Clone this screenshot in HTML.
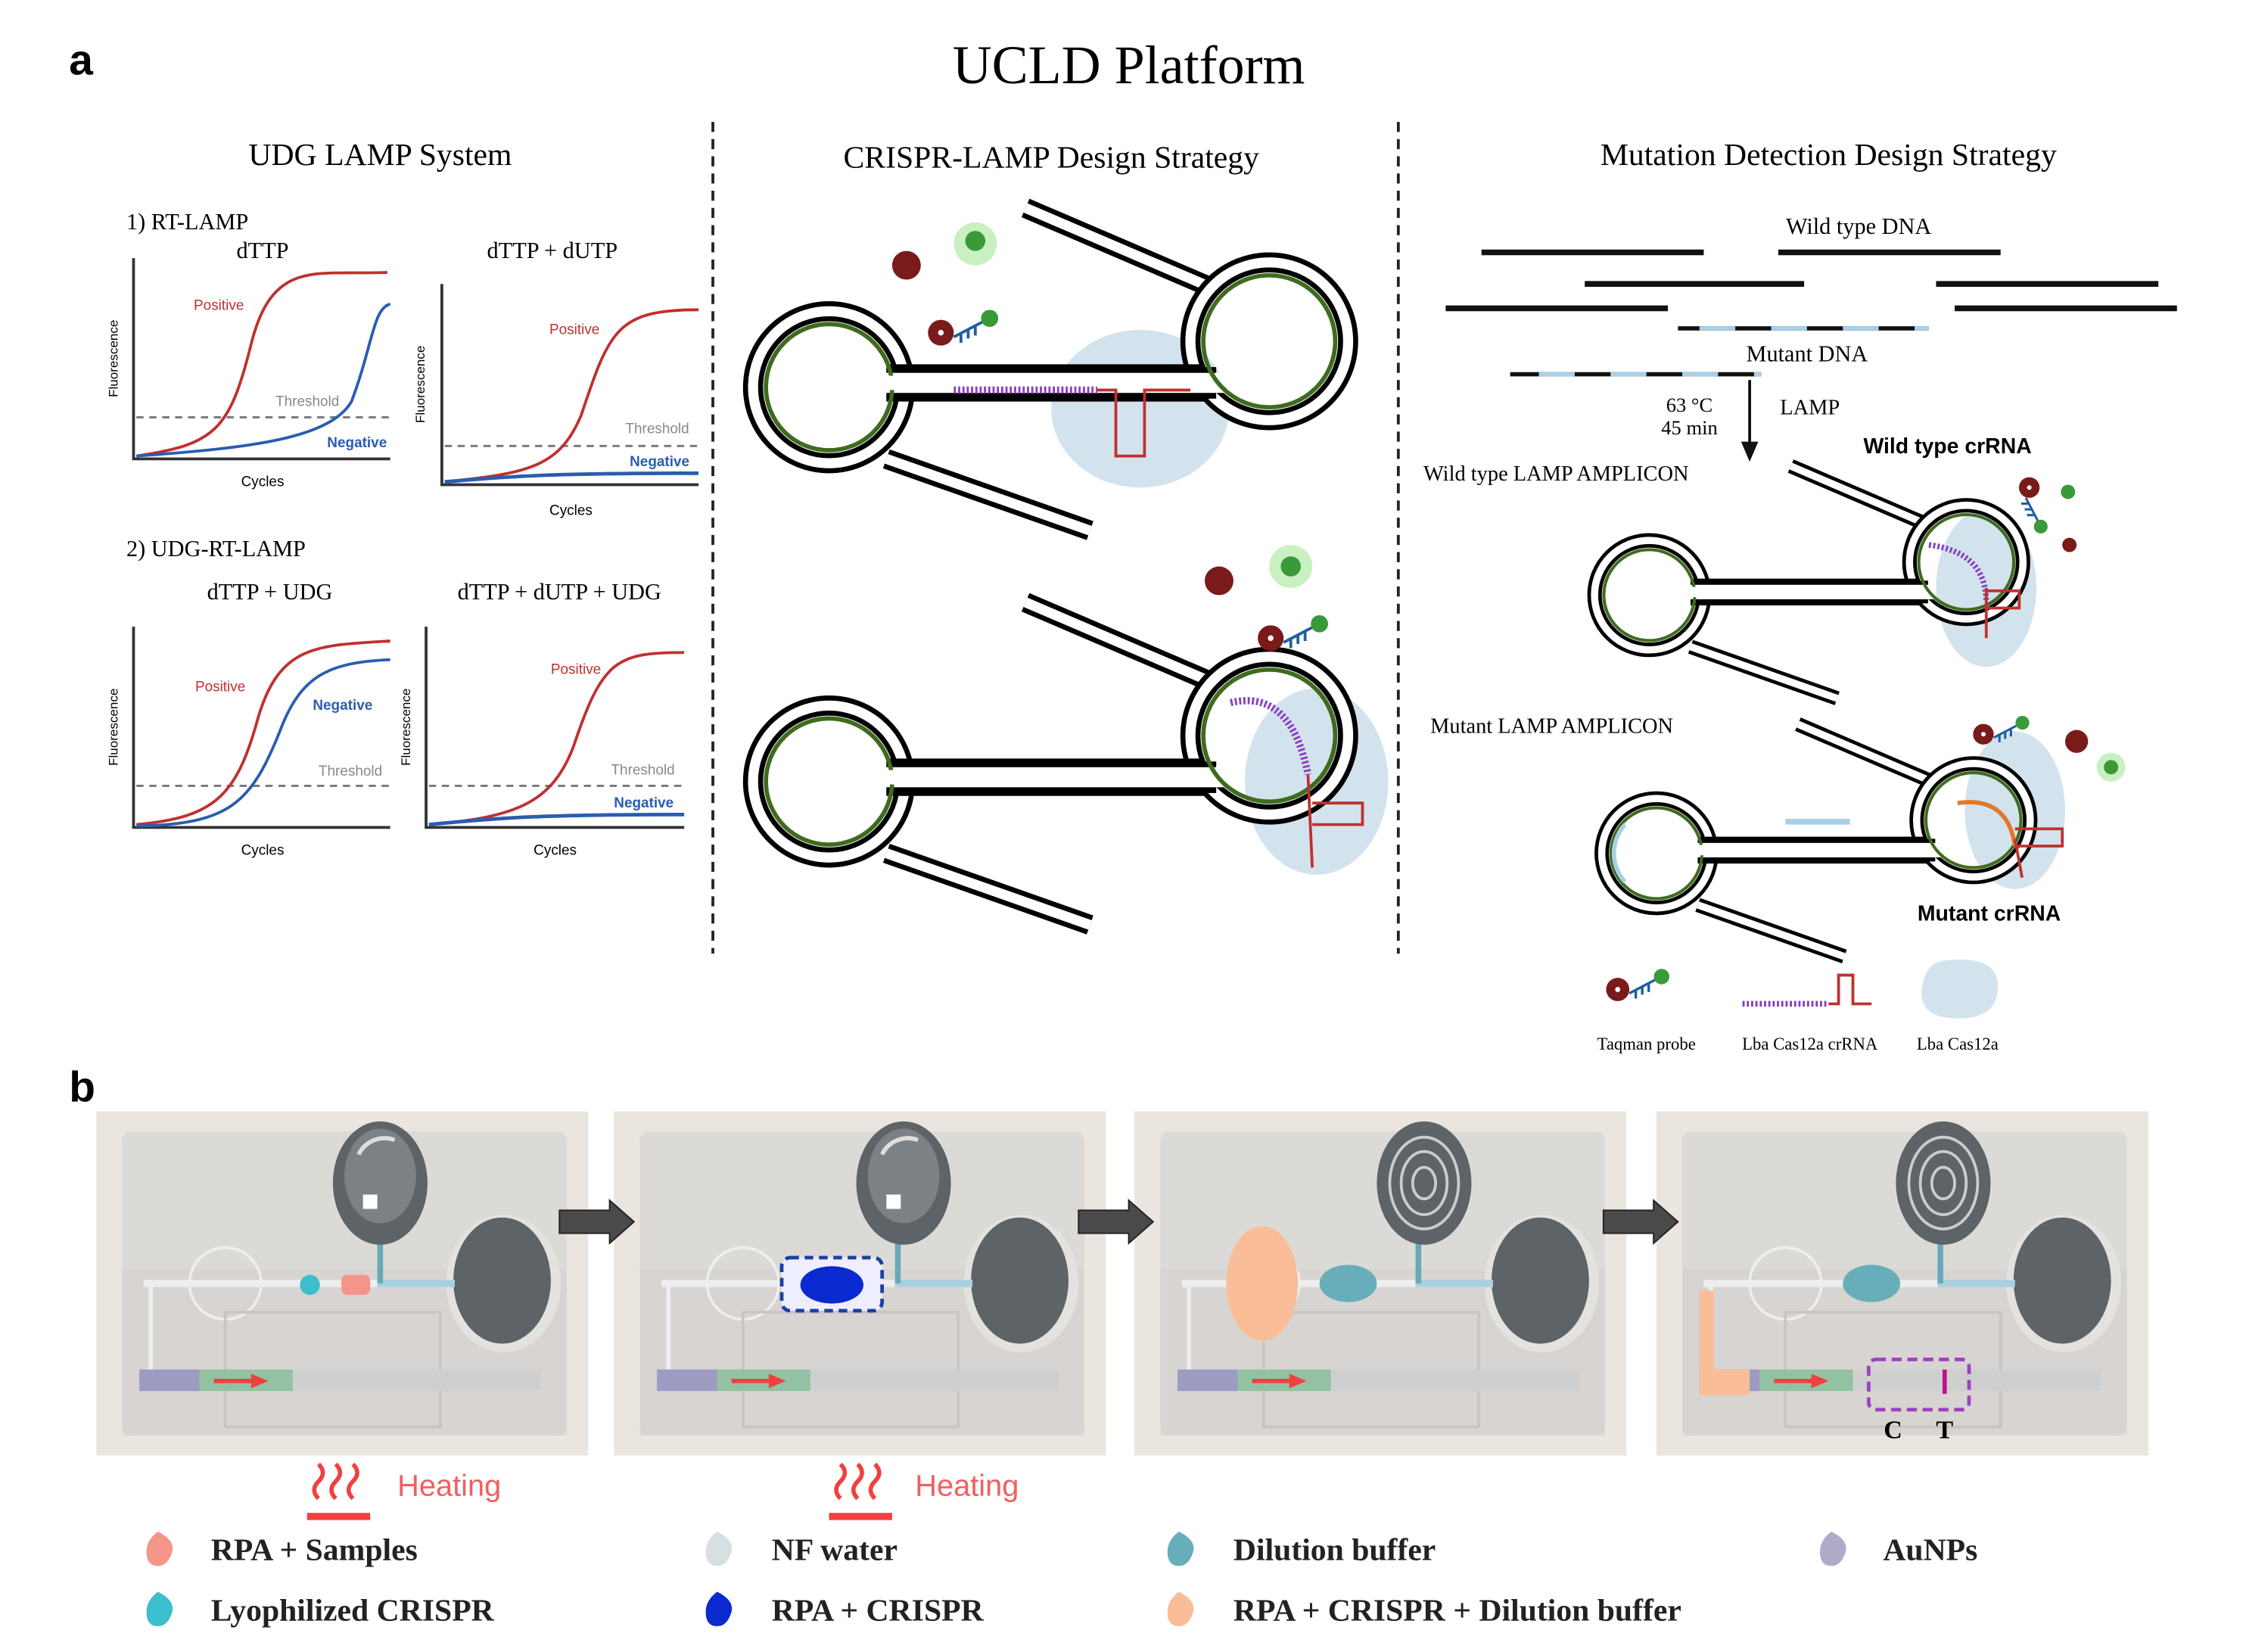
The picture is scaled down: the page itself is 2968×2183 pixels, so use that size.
<!DOCTYPE html>
<html><head><meta charset="utf-8"><style>html,body{margin:0;padding:0;background:#fff}svg{display:block}</style></head>
<body>
<svg width="2968" height="2183" viewBox="0 0 1566 1152" xmlns="http://www.w3.org/2000/svg" font-family="'Liberation Serif',serif">
<rect width="1566" height="1152" fill="#fff"/>
<text x="48" y="52" font-family="'Liberation Sans',sans-serif" font-weight="bold" font-size="30">a</text>
<text x="787" y="58" text-anchor="middle" font-size="38">UCLD Platform</text>
<line x1="497" y1="85" x2="497" y2="665" stroke="#222" stroke-width="2" stroke-dasharray="7,5"/>
<line x1="975" y1="85" x2="975" y2="665" stroke="#222" stroke-width="2" stroke-dasharray="7,5"/>
<text x="265" y="115" text-anchor="middle" font-size="22">UDG LAMP System</text>
<text x="733" y="117" text-anchor="middle" font-size="22">CRISPR-LAMP Design Strategy</text>
<text x="1275" y="115" text-anchor="middle" font-size="22">Mutation Detection Design Strategy</text>

<g font-family="'Liberation Sans',sans-serif">
<text x="88" y="160" font-family="'Liberation Serif',serif" font-size="16">1) RT-LAMP</text>
<text x="183" y="180" text-anchor="middle" font-family="'Liberation Serif',serif" font-size="16">dTTP</text>
<text x="385" y="180" text-anchor="middle" font-family="'Liberation Serif',serif" font-size="16">dTTP + dUTP</text>
<text x="88" y="388" font-family="'Liberation Serif',serif" font-size="16">2) UDG-RT-LAMP</text>
<text x="188" y="418" text-anchor="middle" font-family="'Liberation Serif',serif" font-size="16">dTTP + UDG</text>
<text x="390" y="418" text-anchor="middle" font-family="'Liberation Serif',serif" font-size="16">dTTP + dUTP + UDG</text>
<path d="M93,180 V320 H272" fill="none" stroke="#333" stroke-width="2"/>
<line x1="95" y1="291" x2="272" y2="291" stroke="#777" stroke-dasharray="5,4" stroke-width="1.5"/>
<path d="M95,318 C150,310 160,300 175,240 C190,180 220,192 270,190" fill="none" stroke="#c03030" stroke-width="2"/>
<path d="M95,318 C180,312 230,305 245,280 C260,240 260,215 272,212" fill="none" stroke="#2a5db0" stroke-width="2"/>
<text x="135" y="216" fill="#c03030" font-size="10">Positive</text>
<text x="192" y="283" fill="#888" font-size="10">Threshold</text>
<text x="228" y="312" fill="#2a5db0" font-size="10" font-weight="bold">Negative</text>
<text x="183" y="339" text-anchor="middle" font-size="10">Cycles</text>
<text x="82" y="250" font-size="9" transform="rotate(-90 82 250)" text-anchor="middle">Fluorescence</text>
<path d="M308,198 V338 H487" fill="none" stroke="#333" stroke-width="2"/>
<line x1="310" y1="311" x2="487" y2="311" stroke="#777" stroke-dasharray="5,4" stroke-width="1.5"/>
<path d="M310,336 C370,330 390,325 405,290 C425,230 430,216 487,216" fill="none" stroke="#c03030" stroke-width="2"/>
<path d="M310,336 C360,332 380,330 487,330" fill="none" stroke="#2a5db0" stroke-width="2.5"/>
<text x="383" y="233" fill="#c03030" font-size="10">Positive</text>
<text x="436" y="302" fill="#888" font-size="10">Threshold</text>
<text x="439" y="325" fill="#2a5db0" font-size="10" font-weight="bold">Negative</text>
<text x="398" y="359" text-anchor="middle" font-size="10">Cycles</text>
<text x="296" y="268" font-size="9" transform="rotate(-90 296 268)" text-anchor="middle">Fluorescence</text>
<path d="M93,437 V577 H272" fill="none" stroke="#333" stroke-width="2"/>
<line x1="95" y1="548" x2="272" y2="548" stroke="#777" stroke-dasharray="5,4" stroke-width="1.5"/>
<path d="M95,575 C150,570 165,555 180,500 C195,450 220,450 272,447" fill="none" stroke="#c03030" stroke-width="2"/>
<path d="M95,576 C160,575 175,560 195,510 C210,470 230,462 272,460" fill="none" stroke="#2a5db0" stroke-width="2"/>
<text x="136" y="482" fill="#c03030" font-size="10">Positive</text>
<text x="218" y="495" fill="#2a5db0" font-size="10" font-weight="bold">Negative</text>
<text x="222" y="541" fill="#888" font-size="10">Threshold</text>
<text x="183" y="596" text-anchor="middle" font-size="10">Cycles</text>
<text x="82" y="507" font-size="9" transform="rotate(-90 82 507)" text-anchor="middle">Fluorescence</text>
<path d="M297,437 V577 H477" fill="none" stroke="#333" stroke-width="2"/>
<line x1="299" y1="548" x2="477" y2="548" stroke="#777" stroke-dasharray="5,4" stroke-width="1.5"/>
<path d="M299,575 C360,570 385,560 400,520 C420,460 430,455 477,455" fill="none" stroke="#c03030" stroke-width="2"/>
<path d="M299,575 C350,570 380,568 477,568" fill="none" stroke="#2a5db0" stroke-width="2.5"/>
<text x="384" y="470" fill="#c03030" font-size="10">Positive</text>
<text x="426" y="540" fill="#888" font-size="10">Threshold</text>
<text x="428" y="563" fill="#2a5db0" font-size="10" font-weight="bold">Negative</text>
<text x="387" y="596" text-anchor="middle" font-size="10">Cycles</text>
<text x="286" y="507" font-size="9" transform="rotate(-90 286 507)" text-anchor="middle">Fluorescence</text>
</g>

<defs>
<g id="hp">
<line x1="137" y1="-125" x2="270" y2="-68" stroke="#000" stroke-width="14"/>
<line x1="137" y1="-125" x2="270" y2="-68" stroke="#fff" stroke-width="7"/>
<line x1="40" y1="50" x2="182" y2="100" stroke="#000" stroke-width="14"/>
<line x1="40" y1="50" x2="182" y2="100" stroke="#fff" stroke-width="7"/>
<circle cx="0" cy="0" r="53" fill="none" stroke="#000" stroke-width="14"/>
<circle cx="0" cy="0" r="53" fill="none" stroke="#fff" stroke-width="7"/>
<circle cx="307" cy="-32" r="55" fill="none" stroke="#000" stroke-width="14"/>
<circle cx="307" cy="-32" r="55" fill="none" stroke="#fff" stroke-width="7"/>
<rect x="40" y="-14" width="230" height="22" fill="#000"/>
<rect x="36" y="-10" width="240" height="14" fill="#fff"/>
<path d="M40,-14 H262 M40,8 H262" stroke="#000" stroke-width="4"/>
<circle cx="0" cy="0" r="44" fill="none" stroke="#3f6b1e" stroke-width="3"/>
<circle cx="307" cy="-32" r="46" fill="none" stroke="#3f6b1e" stroke-width="3"/>
<rect x="36" y="-8" width="10" height="10" fill="#fff"/>
<rect x="252" y="-8" width="14" height="10" fill="#fff"/>
</g>
<g id="probe">
<circle cx="0" cy="0" r="9" fill="#7a1a1a"/><circle cx="0" cy="0" r="2" fill="#fff"/>
<path d="M9,3 L30,-8 M14,1 v6 M19,-2 v6 M24,-4 v6" stroke="#1f5f9f" stroke-width="2"/>
<circle cx="34" cy="-10" r="6" fill="#3a9a3a"/>
</g>
</defs>
<ellipse cx="795" cy="285" rx="62" ry="55" fill="#d3e3ed"/>
<use href="#hp" x="578" y="270"/>
<line x1="665" y1="272" x2="765" y2="272" stroke="#8a3fc0" stroke-width="5" stroke-dasharray="1.5,1.5"/>
<path d="M765,272 H778 V318 H798 V272 H830" fill="none" stroke="#c03030" stroke-width="2"/>
<circle cx="680" cy="170" r="15" fill="#c9f0c0"/><circle cx="680" cy="168" r="7" fill="#3a9a3a"/>
<circle cx="632" cy="185" r="10" fill="#7a1a1a"/>
<use href="#probe" x="656" y="232"/>
<ellipse cx="918" cy="545" rx="50" ry="65" fill="#d3e3ed"/>
<use href="#hp" x="578" y="545"/>
<path d="M858,490 Q900,480 912,540" fill="none" stroke="#8a3fc0" stroke-width="5" stroke-dasharray="1.5,1.5"/>
<path d="M912,540 L915,605 M915,560 H950 V575 H915" fill="none" stroke="#c03030" stroke-width="2"/>
<circle cx="900" cy="395" r="15" fill="#c9f0c0"/><circle cx="900" cy="395" r="7" fill="#3a9a3a"/>
<circle cx="850" cy="405" r="10" fill="#7a1a1a"/>
<use href="#probe" x="886" y="445"/>

<text x="1296" y="163" text-anchor="middle" font-size="16">Wild type DNA</text>
<g stroke="#111" stroke-width="4">
<line x1="1033" y1="176" x2="1188" y2="176"/><line x1="1240" y1="176" x2="1395" y2="176"/>
<line x1="1105" y1="198" x2="1258" y2="198"/><line x1="1350" y1="198" x2="1505" y2="198"/>
<line x1="1008" y1="215" x2="1163" y2="215"/><line x1="1363" y1="215" x2="1518" y2="215"/>
</g>
<line x1="1170" y1="229" x2="1345" y2="229" stroke="#111" stroke-width="3"/>
<line x1="1170" y1="229" x2="1345" y2="229" stroke="#a8d0e6" stroke-width="3" stroke-dasharray="25,25" stroke-dashoffset="-15"/>
<text x="1260" y="252" text-anchor="middle" font-size="16">Mutant DNA</text>
<line x1="1053" y1="261" x2="1228" y2="261" stroke="#111" stroke-width="3"/>
<line x1="1053" y1="261" x2="1228" y2="261" stroke="#a8d0e6" stroke-width="3" stroke-dasharray="25,25" stroke-dashoffset="-20"/>
<line x1="1220" y1="265" x2="1220" y2="312" stroke="#111" stroke-width="2"/>
<path d="M1214,308 L1220,322 L1226,308 Z" fill="#111"/>
<text x="1178" y="287" text-anchor="middle" font-size="14">63 °C</text>
<text x="1178" y="303" text-anchor="middle" font-size="14">45 min</text>
<text x="1262" y="289" text-anchor="middle" font-size="15">LAMP</text>
<text x="1358" y="316" text-anchor="middle" font-size="15" font-family="'Liberation Sans',sans-serif" font-weight="bold">Wild type crRNA</text>
<text x="1085" y="335" text-anchor="middle" font-size="15">Wild type LAMP AMPLICON</text>
<text x="1082" y="511" text-anchor="middle" font-size="15">Mutant LAMP AMPLICON</text>
<text x="1387" y="642" text-anchor="middle" font-size="15" font-family="'Liberation Sans',sans-serif" font-weight="bold">Mutant crRNA</text>
<ellipse cx="1385" cy="410" rx="35" ry="55" fill="#d3e3ed"/>
<ellipse cx="1405" cy="565" rx="35" ry="55" fill="#d3e3ed"/>
<use href="#hp" transform="translate(1150,415) scale(0.72)"/>
<use href="#hp" transform="translate(1155,595) scale(0.72)"/>
<path d="M1345,380 Q1385,385 1385,420" fill="none" stroke="#8a3fc0" stroke-width="4" stroke-dasharray="1.5,1.5"/>
<path d="M1385,410 V445 M1385,412 H1408 V424 H1385" fill="none" stroke="#c03030" stroke-width="2"/>
<path d="M1365,560 Q1400,555 1405,590" fill="none" stroke="#e07a2a" stroke-width="3"/>
<path d="M1405,585 L1410,612 M1405,578 H1438 V590 H1405" fill="none" stroke="#c03030" stroke-width="2"/>
<line x1="1245" y1="573" x2="1290" y2="573" stroke="#a8d0e6" stroke-width="4"/>
<path d="M1133,575 A30,30 0 0 0 1133,615" fill="none" stroke="#a8d0e6" stroke-width="3"/>
<use href="#probe" transform="translate(1415,340) rotate(90) scale(0.8)"/>
<circle cx="1442" cy="343" r="5" fill="#3a9a3a"/><circle cx="1443" cy="380" r="5" fill="#7a1a1a"/>
<use href="#probe" transform="translate(1383,512) scale(0.8)"/>
<circle cx="1448" cy="517" r="8" fill="#7a1a1a"/>
<circle cx="1472" cy="535" r="10" fill="#c9f0c0"/><circle cx="1472" cy="535" r="5" fill="#3a9a3a"/>
<use href="#probe" transform="translate(1128,690) scale(0.9)"/>
<line x1="1215" y1="700" x2="1275" y2="700" stroke="#8a3fc0" stroke-width="4" stroke-dasharray="1.5,1.5"/>
<path d="M1275,700 H1282 V680 H1292 V700 H1305" fill="none" stroke="#c03030" stroke-width="2"/>
<path d="M1355,670 Q1395,665 1393,690 Q1392,712 1360,710 Q1338,708 1340,690 Q1342,672 1355,670 Z" fill="#d3e3ed"/>
<g font-size="12" text-anchor="middle">
<text x="1148" y="732">Taqman probe</text>
<text x="1262" y="732">Lba Cas12a crRNA</text>
<text x="1365" y="732">Lba Cas12a</text>
</g>

<text x="48" y="768" font-family="'Liberation Sans',sans-serif" font-weight="bold" font-size="30">b</text>
<defs>
<g id="pn">
<rect x="0" y="0" width="343" height="240" fill="#ebe5df"/>
<rect x="18" y="14" width="310" height="212" rx="6" fill="#dcdad7"/>
<rect x="18" y="110" width="310" height="116" fill="#d3d1ce" opacity="0.6"/>
<ellipse cx="284" cy="120" rx="40" ry="48" fill="#e4e2df"/>
<ellipse cx="283" cy="118" rx="34" ry="44" fill="#5d6367"/>
<line x1="33" y1="120" x2="250" y2="120" stroke="#eee" stroke-width="5"/>
<line x1="196" y1="120" x2="250" y2="120" stroke="#a8d0e0" stroke-width="5"/>
<line x1="198" y1="40" x2="198" y2="120" stroke="#6aa8b8" stroke-width="4"/>
<circle cx="90" cy="120" r="25" fill="none" stroke="#eee" stroke-width="2"/>
<path d="M38,120 V190" stroke="#eee" stroke-width="3" fill="none"/>
<rect x="90" y="140" width="150" height="80" fill="none" stroke="#c8c6c3" stroke-width="2"/>
<rect x="30" y="180" width="280" height="15" fill="#cfcfd0"/>
<rect x="30" y="180" width="42" height="15" fill="#9c9bc2"/>
<rect x="72" y="180" width="65" height="15" fill="#92c2a2"/>
<path d="M82,188 H110" stroke="#f04040" stroke-width="3"/><path d="M108,183 L120,188 L108,193 Z" fill="#f04040"/>
</g>
<g id="top1"><ellipse cx="0" cy="0" rx="33" ry="43" fill="#5d6367"/><ellipse cx="0" cy="-5" rx="25" ry="33" fill="#7b8185"/><rect x="-12" y="8" width="10" height="10" fill="#fff"/><path d="M-15,-20 A20,20 0 0 1 10,-30" stroke="#ddd" stroke-width="3" fill="none"/></g>
<g id="top2"><ellipse cx="0" cy="0" rx="33" ry="43" fill="#5d6367"/><g fill="none" stroke="#ccc" stroke-width="2"><ellipse rx="24" ry="32"/><ellipse rx="16" ry="22"/><ellipse rx="8" ry="11"/></g></g>
<g id="arr"><path d="M0,-8 H35 V-15 L52,0 L35,15 V8 H0 Z" fill="#4a4a4a" stroke="#222" stroke-width="1"/></g>
<g id="heat"><path d="M0,0 q-6,-6 0,-12 q6,-6 0,-12 M12,0 q-6,-6 0,-12 q6,-6 0,-12 M24,0 q-6,-6 0,-12 q6,-6 0,-12" stroke="#f04040" stroke-width="3" fill="none"/><rect x="-8" y="10" width="44" height="5" fill="#f04040"/></g>
</defs>
<use href="#pn" x="67" y="775"/>
<use href="#pn" x="428" y="775"/>
<use href="#pn" x="791" y="775"/>
<use href="#pn" x="1155" y="775"/>
<use href="#top1" x="265" y="825"/>
<use href="#top1" x="630" y="825"/>
<use href="#top2" x="993" y="825"/>
<use href="#top2" x="1355" y="825"/>
<use href="#arr" x="390" y="852"/>
<use href="#arr" x="752" y="852"/>
<use href="#arr" x="1118" y="852"/>
<circle cx="216" cy="896" r="7" fill="#3bbfcc"/>
<rect x="238" y="889" width="20" height="14" rx="4" fill="#f5958a"/>
<rect x="545" y="877" width="70" height="37" rx="6" fill="#eef" stroke="#1a3fa0" stroke-width="2.5" stroke-dasharray="6,4"/>
<ellipse cx="580" cy="896" rx="22" ry="13" fill="#0a2ad0"/>
<ellipse cx="880" cy="895" rx="25" ry="40" fill="#f9be98"/>
<ellipse cx="940" cy="895" rx="20" ry="13" fill="#68aeba"/>
<ellipse cx="1305" cy="895" rx="20" ry="13" fill="#68aeba"/>
<rect x="1185" y="900" width="10" height="70" fill="#f9be98"/>
<rect x="1185" y="955" width="35" height="18" fill="#f9be98"/>
<rect x="1303" y="948" width="70" height="35" rx="5" fill="none" stroke="#a040c0" stroke-width="2.5" stroke-dasharray="7,4"/>
<line x1="1356" y1="955" x2="1356" y2="972" stroke="#c0108a" stroke-width="3"/>
<text x="1320" y="1003" text-anchor="middle" font-size="18" font-weight="bold">C</text>
<text x="1356" y="1003" text-anchor="middle" font-size="18" font-weight="bold">T</text>
<use href="#heat" x="222" y="1045"/>
<use href="#heat" x="586" y="1045"/>
<text x="277" y="1043" font-family="'Liberation Sans',sans-serif" font-size="21" fill="#f06060">Heating</text>
<text x="638" y="1043" font-family="'Liberation Sans',sans-serif" font-size="21" fill="#f06060">Heating</text>
<g font-size="22" font-weight="bold" fill="#222">
<path d="M110,1068 q12,6 10,14 q-3,10 -10,10 q-8,0 -8,-10 q0,-8 8,-14 z" fill="#f5958a"/>
<path d="M110,1110 q12,6 10,14 q-3,10 -10,10 q-8,0 -8,-10 q0,-8 8,-14 z" fill="#3bbfcc"/>
<path d="M500,1068 q12,6 10,14 q-3,10 -10,10 q-8,0 -8,-10 q0,-8 8,-14 z" fill="#d6e0e0"/>
<path d="M500,1110 q12,6 10,14 q-3,10 -10,10 q-8,0 -8,-10 q0,-8 8,-14 z" fill="#0a2ad0"/>
<path d="M822,1068 q12,6 10,14 q-3,10 -10,10 q-8,0 -8,-10 q0,-8 8,-14 z" fill="#68aeba"/>
<path d="M822,1110 q12,6 10,14 q-3,10 -10,10 q-8,0 -8,-10 q0,-8 8,-14 z" fill="#f9be98"/>
<path d="M1277,1068 q12,6 10,14 q-3,10 -10,10 q-8,0 -8,-10 q0,-8 8,-14 z" fill="#aeaac8"/>
<text x="147" y="1088">RPA + Samples</text>
<text x="147" y="1130">Lyophilized  CRISPR</text>
<text x="538" y="1088">NF water</text>
<text x="538" y="1130">RPA + CRISPR</text>
<text x="860" y="1088">Dilution buffer</text>
<text x="860" y="1130">RPA + CRISPR + Dilution buffer</text>
<text x="1313" y="1088">AuNPs</text>
</g>
</svg>
</body></html>
